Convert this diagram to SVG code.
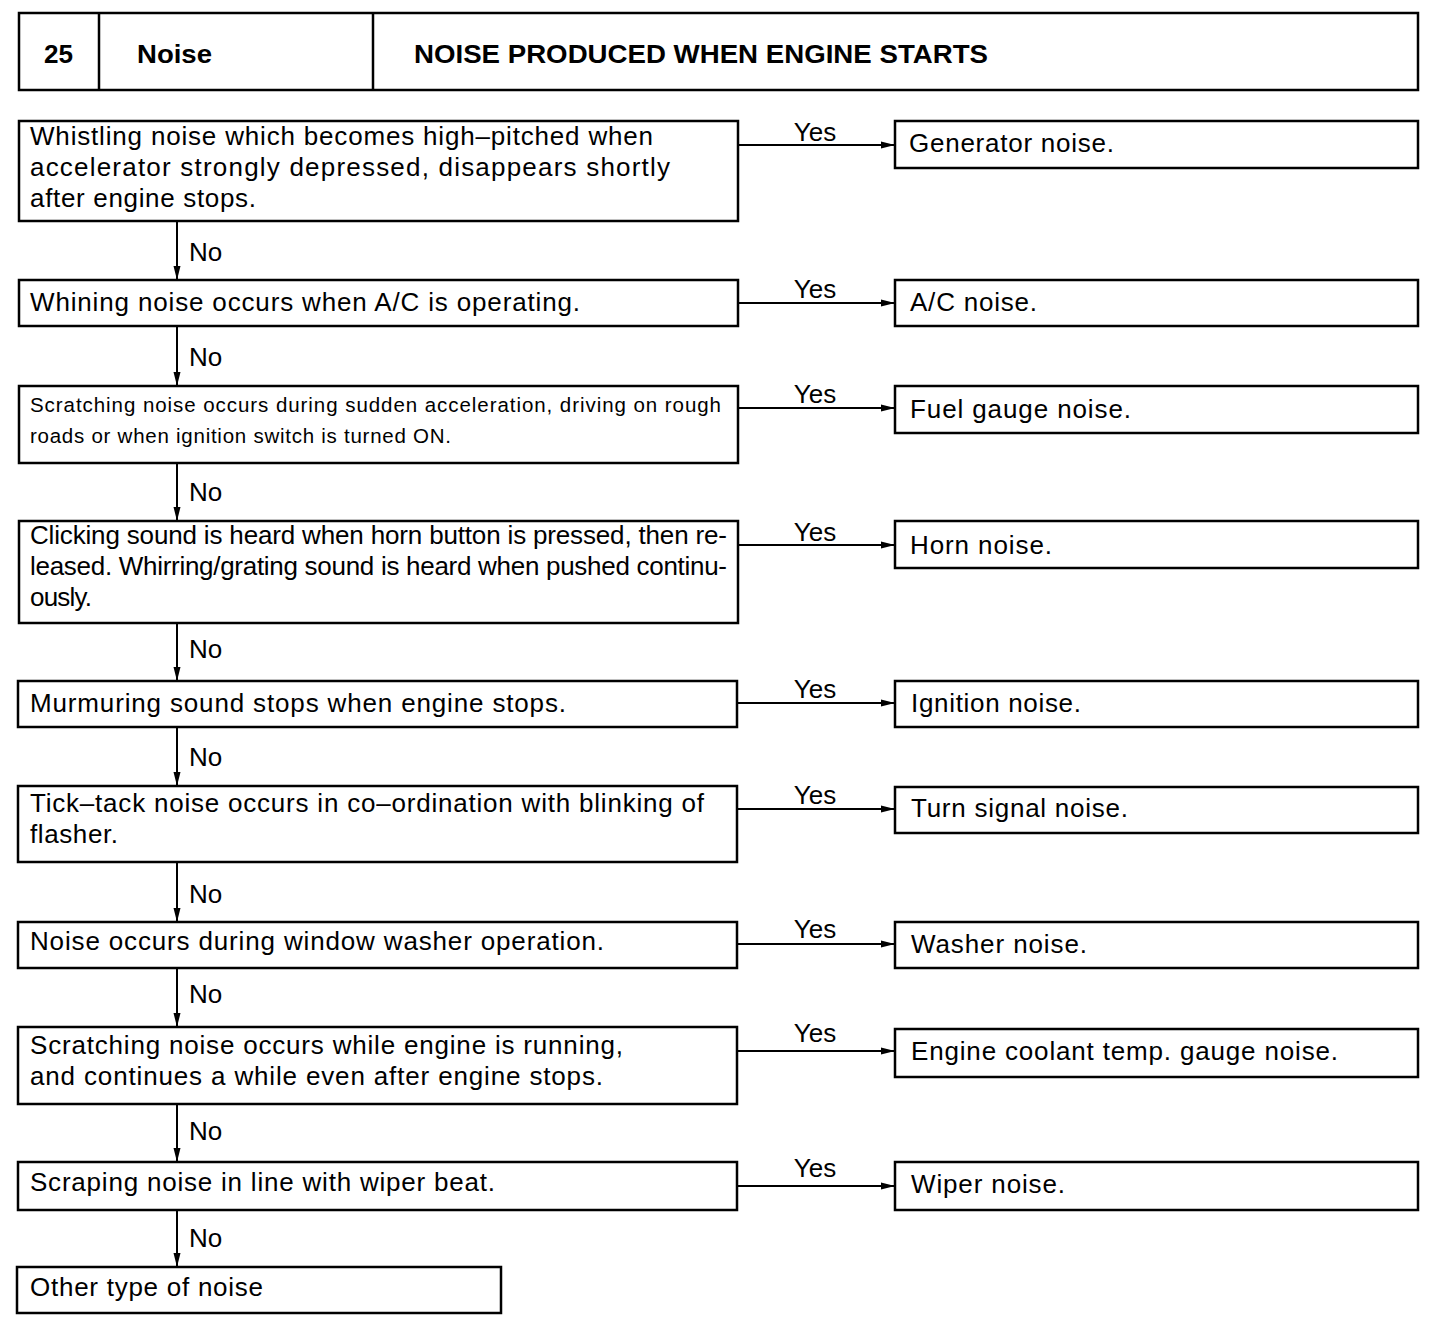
<svg xmlns="http://www.w3.org/2000/svg" width="1456" height="1330" viewBox="0 0 1456 1330">
<defs>
<marker id="ah" markerUnits="userSpaceOnUse" markerWidth="15" markerHeight="10" refX="14" refY="5" orient="auto">
<path d="M0,1.5 L14,5 L0,8.5 z" fill="#000"/>
</marker>
<style>
.b{fill:#fff;stroke:#000;stroke-width:2.5}
.t{font-family:"Liberation Sans",Arial,sans-serif;font-size:26px;fill:#000}
.s{font-family:"Liberation Sans",Arial,sans-serif;font-size:20.5px;fill:#000}
.h{font-family:"Liberation Sans",Arial,sans-serif;font-size:25px;font-weight:bold;fill:#000}
.c{stroke:#000;stroke-width:2;fill:none;marker-end:url(#ah)}
</style>
</defs>
<rect width="1456" height="1330" fill="#fff"/>
<g id="header">
<rect class="b" x="19" y="13" width="1399" height="77"/>
<line x1="99" y1="13" x2="99" y2="90" stroke="#000" stroke-width="2.5"/>
<line x1="373" y1="13" x2="373" y2="90" stroke="#000" stroke-width="2.5"/>
<text class="h" x="44" y="63" textLength="29" lengthAdjust="spacingAndGlyphs">25</text>
<text class="h" x="137" y="63" textLength="75" lengthAdjust="spacingAndGlyphs">Noise</text>
<text class="h" x="414" y="63" textLength="574" lengthAdjust="spacingAndGlyphs">NOISE PRODUCED WHEN ENGINE STARTS</text>
</g>
<g id="connectors">
<line class="c" x1="738" y1="145" x2="895" y2="145"/>
<line class="c" x1="738" y1="303" x2="895" y2="303"/>
<line class="c" x1="738" y1="408" x2="895" y2="408"/>
<line class="c" x1="738" y1="545" x2="895" y2="545"/>
<line class="c" x1="738" y1="703" x2="895" y2="703"/>
<line class="c" x1="738" y1="809" x2="895" y2="809"/>
<line class="c" x1="738" y1="944" x2="895" y2="944"/>
<line class="c" x1="738" y1="1051" x2="895" y2="1051"/>
<line class="c" x1="738" y1="1186" x2="895" y2="1186"/>
<line class="c" x1="177" y1="221" x2="177" y2="280"/>
<line class="c" x1="177" y1="326" x2="177" y2="386"/>
<line class="c" x1="177" y1="463" x2="177" y2="521"/>
<line class="c" x1="177" y1="623" x2="177" y2="681"/>
<line class="c" x1="177" y1="727" x2="177" y2="786"/>
<line class="c" x1="177" y1="862" x2="177" y2="922"/>
<line class="c" x1="177" y1="968" x2="177" y2="1027"/>
<line class="c" x1="177" y1="1104" x2="177" y2="1162"/>
<line class="c" x1="177" y1="1210" x2="177" y2="1267"/>
<g class="t" text-anchor="middle">
<text x="815" y="141">Yes</text>
<text x="815" y="298">Yes</text>
<text x="815" y="403">Yes</text>
<text x="815" y="541">Yes</text>
<text x="815" y="698">Yes</text>
<text x="815" y="804">Yes</text>
<text x="815" y="938">Yes</text>
<text x="815" y="1042">Yes</text>
<text x="815" y="1177">Yes</text>
</g>
<g class="t">
<text x="189" y="261">No</text>
<text x="189" y="366">No</text>
<text x="189" y="501">No</text>
<text x="189" y="658">No</text>
<text x="189" y="766">No</text>
<text x="189" y="903">No</text>
<text x="189" y="1003">No</text>
<text x="189" y="1140">No</text>
<text x="189" y="1247">No</text>
</g>
</g>
<g id="q1">
<rect class="b" x="19" y="121" width="719" height="100"/>
<text class="t" x="30" y="145" textLength="623" lengthAdjust="spacing">Whistling noise which becomes high–pitched when</text>
<text class="t" x="30" y="176" textLength="640" lengthAdjust="spacing">accelerator strongly depressed, disappears shortly</text>
<text class="t" x="30" y="207" textLength="226" lengthAdjust="spacing">after engine stops.</text>
</g>
<g id="q2">
<rect class="b" x="19" y="280" width="719" height="46"/>
<text class="t" x="30" y="311" textLength="550" lengthAdjust="spacing">Whining noise occurs when A/C is operating.</text>
</g>
<g id="q3">
<rect class="b" x="19" y="386" width="719" height="77"/>
<text class="s" x="30" y="412" textLength="691" lengthAdjust="spacing">Scratching noise occurs during sudden acceleration, driving on rough</text>
<text class="s" x="30" y="443" textLength="421" lengthAdjust="spacing">roads or when ignition switch is turned ON.</text>
</g>
<g id="q4">
<rect class="b" x="19" y="521" width="719" height="102"/>
<text class="t" x="30" y="544" textLength="697" lengthAdjust="spacing">Clicking sound is heard when horn button is pressed, then re-</text>
<text class="t" x="30" y="575" textLength="697" lengthAdjust="spacing">leased. Whirring/grating sound is heard when pushed continu-</text>
<text class="t" x="30" y="606" textLength="62" lengthAdjust="spacing">ously.</text>
</g>
<g id="q5">
<rect class="b" x="18" y="681" width="719" height="46"/>
<text class="t" x="30" y="712" textLength="536" lengthAdjust="spacing">Murmuring sound stops when engine stops.</text>
</g>
<g id="q6">
<rect class="b" x="18" y="786" width="719" height="76"/>
<text class="t" x="30" y="812" textLength="674" lengthAdjust="spacing">Tick–tack noise occurs in co–ordination with blinking of</text>
<text class="t" x="30" y="843" textLength="88" lengthAdjust="spacing">flasher.</text>
</g>
<g id="q7">
<rect class="b" x="18" y="922" width="719" height="46"/>
<text class="t" x="30" y="950" textLength="574" lengthAdjust="spacing">Noise occurs during window washer operation.</text>
</g>
<g id="q8">
<rect class="b" x="18" y="1027" width="719" height="77"/>
<text class="t" x="30" y="1054" textLength="593" lengthAdjust="spacing">Scratching noise occurs while engine is running,</text>
<text class="t" x="30" y="1085" textLength="573" lengthAdjust="spacing">and continues a while even after engine stops.</text>
</g>
<g id="q9">
<rect class="b" x="18" y="1162" width="719" height="48"/>
<text class="t" x="30" y="1191" textLength="465" lengthAdjust="spacing">Scraping noise in line with wiper beat.</text>
</g>
<g id="other">
<rect class="b" x="17" y="1267" width="484" height="46"/>
<text class="t" x="30" y="1296" textLength="233" lengthAdjust="spacing">Other type of noise</text>
</g>
<g id="r1">
<rect class="b" x="895" y="121" width="523" height="47"/>
<text class="t" x="909" y="152" textLength="205" lengthAdjust="spacing">Generator noise.</text>
</g>
<g id="r2">
<rect class="b" x="895" y="280" width="523" height="46"/>
<text class="t" x="910" y="311" textLength="127" lengthAdjust="spacing">A/C noise.</text>
</g>
<g id="r3">
<rect class="b" x="895" y="386" width="523" height="47"/>
<text class="t" x="910" y="418" textLength="221" lengthAdjust="spacing">Fuel gauge noise.</text>
</g>
<g id="r4">
<rect class="b" x="895" y="521" width="523" height="47"/>
<text class="t" x="910" y="554" textLength="142" lengthAdjust="spacing">Horn noise.</text>
</g>
<g id="r5">
<rect class="b" x="895" y="681" width="523" height="46"/>
<text class="t" x="911" y="712" textLength="170" lengthAdjust="spacing">Ignition noise.</text>
</g>
<g id="r6">
<rect class="b" x="895" y="787" width="523" height="46"/>
<text class="t" x="911" y="817" textLength="217" lengthAdjust="spacing">Turn signal noise.</text>
</g>
<g id="r7">
<rect class="b" x="895" y="922" width="523" height="46"/>
<text class="t" x="911" y="953" textLength="176" lengthAdjust="spacing">Washer noise.</text>
</g>
<g id="r8">
<rect class="b" x="895" y="1029" width="523" height="48"/>
<text class="t" x="911" y="1060" textLength="427" lengthAdjust="spacing">Engine coolant temp. gauge noise.</text>
</g>
<g id="r9">
<rect class="b" x="895" y="1162" width="523" height="48"/>
<text class="t" x="911" y="1193" textLength="154" lengthAdjust="spacing">Wiper noise.</text>
</g>
</svg>
